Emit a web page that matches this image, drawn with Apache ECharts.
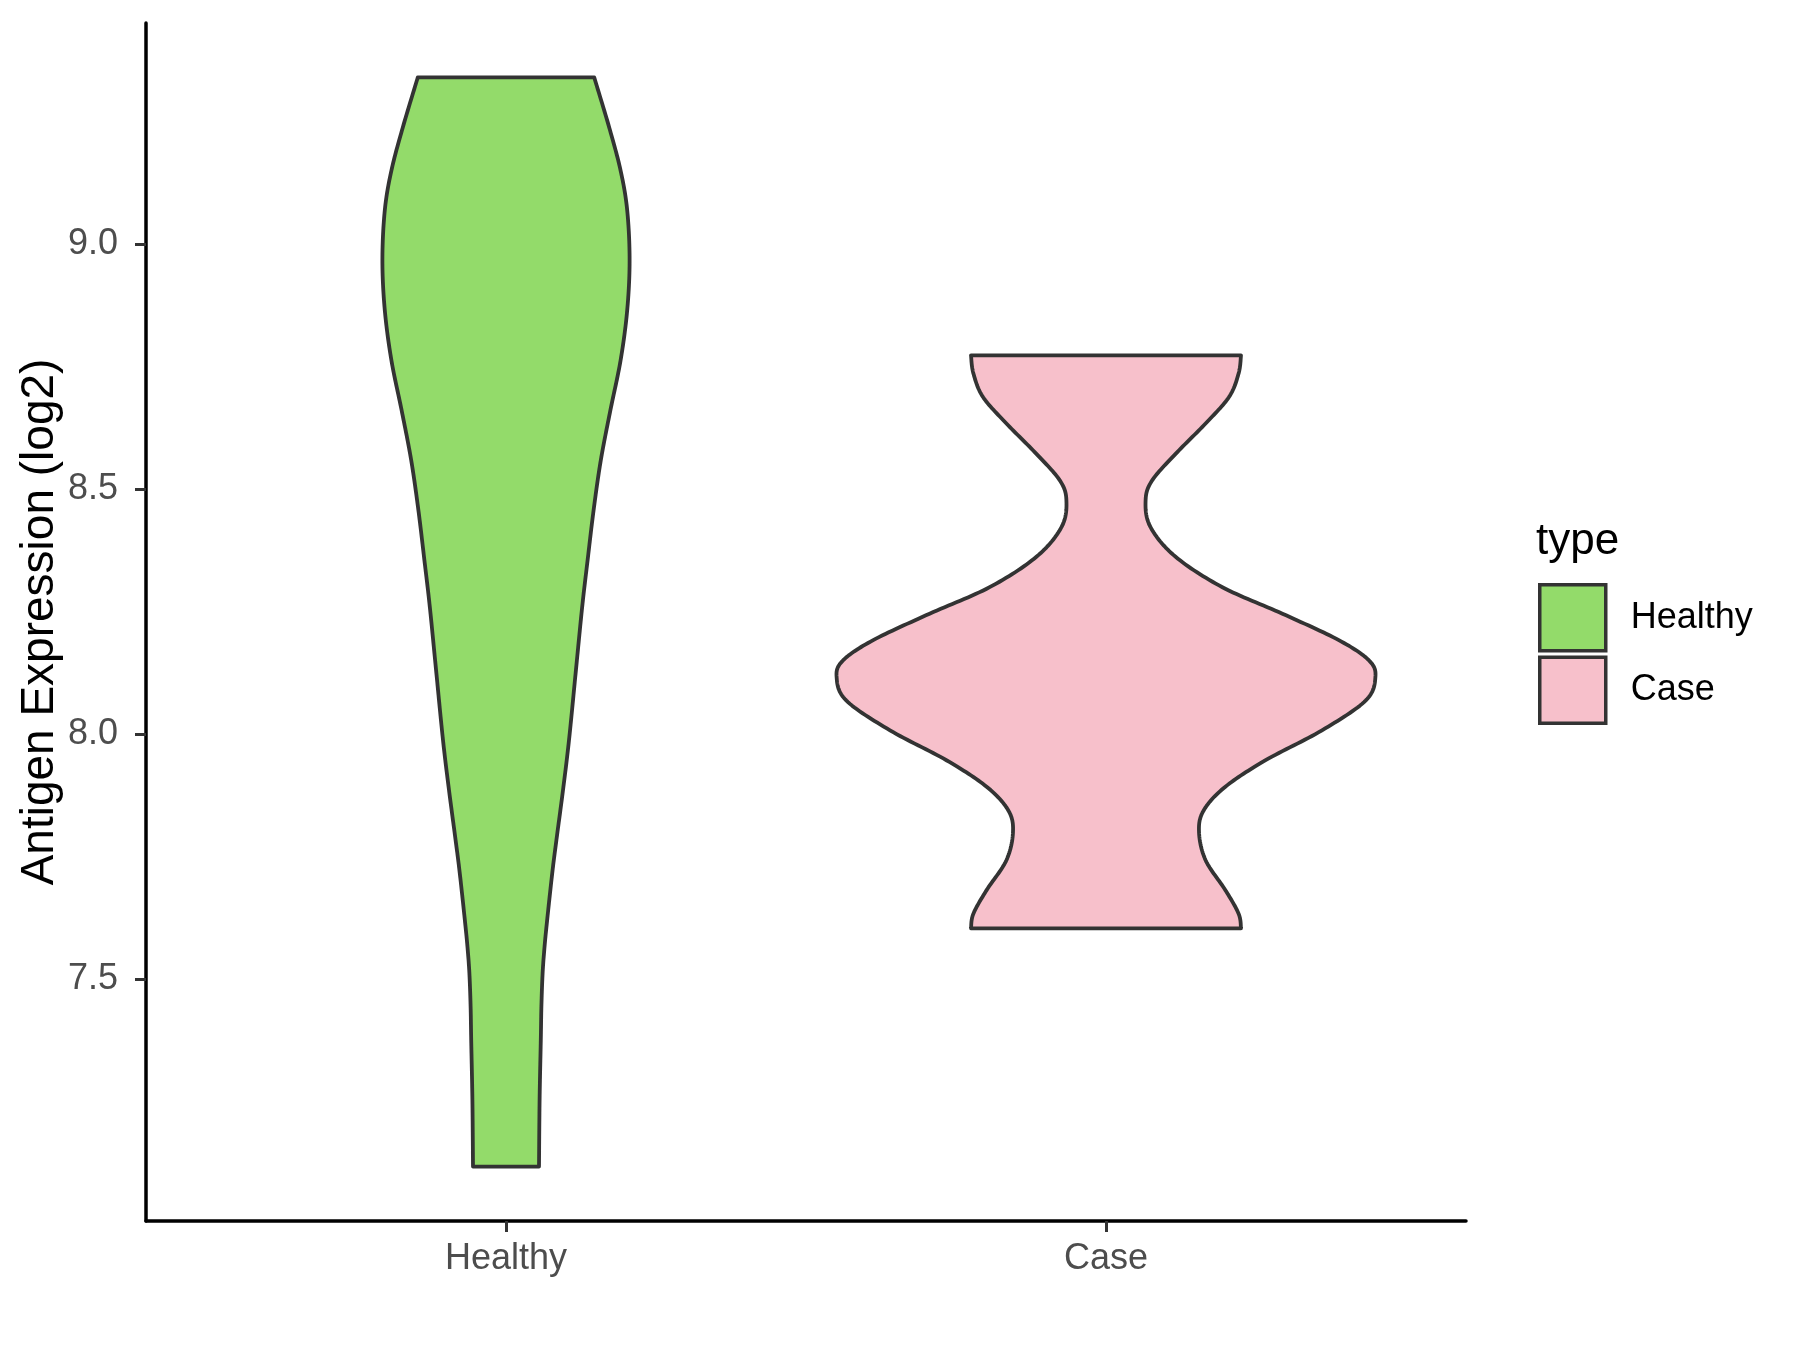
<!DOCTYPE html>
<html>
<head>
<meta charset="utf-8">
<script src="https://cdn.jsdelivr.net/npm/echarts@6/dist/echarts.min.js"></script>
<style>
  html, body { margin: 0; padding: 0; background: #ffffff; }
  #chart { width: 1800px; height: 1350px; }
</style>
</head>
<body>
<div id="chart"></div>
<script>
// ---- data ----
const categories = ['Healthy', 'Case'];
const yTicks = [7.5, 8.0, 8.5, 9.0];

// Healthy violin outline: expression values and half-widths (x-axis units)
const healthyY    = [9.340, 9.238, 9.150, 9.069, 8.967, 8.865, 8.763, 8.661, 8.559, 8.457, 8.355, 8.260, 8.124, 7.988, 7.886, 7.784, 7.716, 7.614, 7.563, 7.512, 7.445, 7.376, 7.254, 7.118];
const healthyHalf = [0.147, 0.172, 0.191, 0.202, 0.206, 0.202, 0.191, 0.174, 0.158, 0.146, 0.136, 0.127, 0.116, 0.105, 0.095, 0.084, 0.077, 0.068, 0.064, 0.061, 0.059, 0.058, 0.056, 0.055];

// Case violin outline
const caseY    = [8.773, 8.736, 8.688, 8.634, 8.572, 8.518, 8.477, 8.423, 8.362, 8.300, 8.246, 8.192, 8.151, 8.117, 8.069, 8.008, 7.947, 7.893, 7.845, 7.801, 7.743, 7.682, 7.634, 7.604];
const caseHalf = [0.225, 0.221, 0.205, 0.166, 0.116, 0.077, 0.066, 0.074, 0.116, 0.194, 0.294, 0.388, 0.438, 0.449, 0.433, 0.360, 0.266, 0.199, 0.163, 0.155, 0.166, 0.199, 0.221, 0.225];

const fillColors = { Healthy: '#93DB6A', Case: '#F7C0CB' };
const FONT = '"Liberation Sans", Arial, Helvetica, sans-serif';

// Catmull-Rom smoothing of a pixel polyline (drawing only)
function spline(pts) {
  const out = [];
  const n = pts.length;
  for (let i = 0; i < n - 1; i++) {
    const p0 = pts[Math.max(i - 1, 0)], p1 = pts[i], p2 = pts[i + 1], p3 = pts[Math.min(i + 2, n - 1)];
    const steps = 16;
    for (let s = 0; s < steps; s++) {
      const t = s / steps, t2 = t * t, t3 = t2 * t;
      const f = (a, b, c, d) => 0.5 * ((2 * b) + (-a + c) * t + (2 * a - 5 * b + 4 * c - d) * t2 + (-a + 3 * b - 3 * c + d) * t3);
      out.push([f(p0[0], p1[0], p2[0], p3[0]), f(p0[1], p1[1], p2[1], p3[1])]);
    }
  }
  out.push(pts[n - 1]);
  return out;
}

function violinRenderer(yArr, hArr, center, color) {
  return function (params, api) {
    const left = yArr.map((y, i) => api.coord([center - hArr[i], y]));
    const right = yArr.map((y, i) => api.coord([center + hArr[i], y]));
    const pts = spline(left).concat(spline(right).reverse());
    return {
      type: 'polygon',
      shape: { points: pts },
      style: { fill: color, stroke: '#333333', lineWidth: 3.8, lineJoin: 'round' }
    };
  };
}

const chart = echarts.init(document.getElementById('chart'), null, { renderer: 'canvas' });

const option = {
  backgroundColor: '#ffffff',
  animation: false,
  textStyle: { fontFamily: FONT },
  grid: { left: 146, right: 334, top: 23, bottom: 129, containLabel: false },
  xAxis: {
    type: 'value',
    min: 0.4,
    max: 2.6,
    splitLine: { show: false },
    axisLine: { show: true, onZero: false, lineStyle: { color: '#000000', width: 3.5 } },
    axisTick: { show: true, length: 11, lineStyle: { color: '#333333', width: 3 }, customValues: [1, 2] },
    axisLabel: {
      show: true, margin: 20, fontSize: 36, color: '#4D4D4D', fontFamily: FONT,
      customValues: [1, 2],
      formatter: v => categories[Math.round(v) - 1]
    }
  },
  yAxis: {
    type: 'value',
    min: 7.007,
    max: 9.451,
    splitLine: { show: false },
    axisLine: { show: true, onZero: false, lineStyle: { color: '#000000', width: 3.5 } },
    axisTick: { show: true, length: 11, lineStyle: { color: '#333333', width: 3 }, customValues: yTicks },
    axisLabel: {
      show: true, margin: 28, fontSize: 36, color: '#4D4D4D', fontFamily: FONT,
      customValues: yTicks,
      formatter: v => v.toFixed(1)
    },
    name: 'Antigen Expression (log2)',
    nameLocation: 'middle',
    nameRotate: 90,
    nameGap: 83,
    nameMoveOverlap: false,
    nameTextStyle: { fontSize: 46, color: '#000000', fontFamily: FONT }
  },
  legend: {
    show: true,
    orient: 'vertical',
    left: 1538,
    top: 583,
    padding: 0,
    itemWidth: 66,
    itemHeight: 66,
    itemGap: 3,
    icon: 'rect',
    textStyle: { fontSize: 36, color: '#000000', fontFamily: FONT, padding: [0, 0, 0, 20] },
    data: [
      { name: 'Healthy', itemStyle: { color: fillColors.Healthy, borderColor: '#333333', borderWidth: 3.5 } },
      { name: 'Case', itemStyle: { color: fillColors.Case, borderColor: '#333333', borderWidth: 3.5 } }
    ]
  },
  graphic: [
    {
      type: 'text',
      left: 1536,
      top: 520,
      style: { text: 'type', fontSize: 44, fill: '#000000', fontFamily: FONT }
    }
  ],
  series: [
    {
      name: 'Healthy',
      type: 'custom',
      itemStyle: { color: fillColors.Healthy, borderColor: '#333333', borderWidth: 3.5 },
      renderItem: violinRenderer(healthyY, healthyHalf, 1, fillColors.Healthy),
      data: [[1, healthyY[0]]],
      silent: true
    },
    {
      name: 'Case',
      type: 'custom',
      itemStyle: { color: fillColors.Case, borderColor: '#333333', borderWidth: 3.5 },
      renderItem: violinRenderer(caseY, caseHalf, 2, fillColors.Case),
      data: [[2, caseY[0]]],
      silent: true
    }
  ]
};

chart.setOption(option);
</script>
</body>
</html>
